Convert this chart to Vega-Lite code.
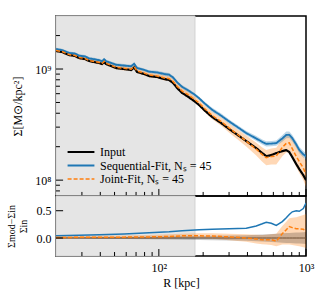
{
  "$schema": "https://vega.github.io/schema/vega-lite/v6.json",
  "padding": {"left": 5, "right": 5, "top": 14, "bottom": 5},
  "spacing": 0,
  "bounds": "flush",
  "config": {
    "view": {"stroke": "black", "strokeWidth": 1.5},
    "font": "Liberation Serif",
    "axis": {"zindex": 1, "domain": false, "grid": false, "ticks": false, "tickSize": 0, "labelColor": "black", "titleColor": "black", "labelFont": "Liberation Serif", "titleFont": "Liberation Serif", "labelFontSize": 12, "titleFontSize": 12, "titleFontWeight": "normal", "labelFlush": false, "labelOverlap": false},
    "legend": {"labelFont": "Liberation Serif"},
    "rule": {"color": "black", "strokeWidth": 1}
  },
  "datasets": {
    "shade": [{"R": 20, "R2": 176}],
    "xminor": [{"t": 30}, {"t": 40}, {"t": 50}, {"t": 60}, {"t": 70}, {"t": 80}, {"t": 90}, {"t": 200}, {"t": 300}, {"t": 400}, {"t": 500}, {"t": 600}, {"t": 700}, {"t": 800}, {"t": 900}],
    "xmajor": [{"t": 100}, {"t": 1000}],
    "yminor": [{"t": 8e7}, {"t": 9e7}, {"t": 2e8}, {"t": 3e8}, {"t": 4e8}, {"t": 5e8}, {"t": 6e8}, {"t": 7e8}, {"t": 8e8}, {"t": 9e8}, {"t": 2e9}],
    "ymajor": [{"t": 1e8}, {"t": 1e9}],
    "rmajor": [{"t": 0}, {"t": 0.5}],
    "prof": [
      {"R": 20, "K": 1.453e9, "B": 1.511e9, "J": 1.468e9, "Blo": 1.467e9, "Bhi": 1.556e9, "Jlo": 1.412e9, "Jhi": 1.527e9},
      {"R": 21.99, "K": 1.423e9, "B": 1.480e9, "J": 1.437e9, "Blo": 1.437e9, "Bhi": 1.524e9, "Jlo": 1.382e9, "Jhi": 1.494e9},
      {"R": 24.54, "K": 1.337e9, "B": 1.397e9, "J": 1.350e9, "Blo": 1.356e9, "Bhi": 1.439e9, "Jlo": 1.298e9, "Jhi": 1.404e9},
      {"R": 26.95, "K": 1.310e9, "B": 1.376e9, "J": 1.323e9, "Blo": 1.336e9, "Bhi": 1.417e9, "Jlo": 1.272e9, "Jhi": 1.376e9},
      {"R": 28.70, "K": 1.256e9, "B": 1.319e9, "J": 1.269e9, "Blo": 1.281e9, "Bhi": 1.359e9, "Jlo": 1.220e9, "Jhi": 1.320e9},
      {"R": 31.52, "K": 1.230e9, "B": 1.298e9, "J": 1.243e9, "Blo": 1.260e9, "Bhi": 1.337e9, "Jlo": 1.195e9, "Jhi": 1.293e9},
      {"R": 33.57, "K": 1.181e9, "B": 1.246e9, "J": 1.194e9, "Blo": 1.210e9, "Bhi": 1.283e9, "Jlo": 1.148e9, "Jhi": 1.242e9},
      {"R": 36.31, "K": 1.156e9, "B": 1.225e9, "J": 1.170e9, "Blo": 1.189e9, "Bhi": 1.262e9, "Jlo": 1.120e9, "Jhi": 1.223e9},
      {"R": 39.26, "K": 1.133e9, "B": 1.201e9, "J": 1.147e9, "Blo": 1.166e9, "Bhi": 1.237e9, "Jlo": 1.098e9, "Jhi": 1.199e9},
      {"R": 41.15, "K": 1.109e9, "B": 1.176e9, "J": 1.123e9, "Blo": 1.142e9, "Bhi": 1.211e9, "Jlo": 1.075e9, "Jhi": 1.174e9},
      {"R": 42.46, "K": 1.156e9, "B": 1.225e9, "J": 1.171e9, "Blo": 1.189e9, "Bhi": 1.262e9, "Jlo": 1.121e9, "Jhi": 1.224e9},
      {"R": 43.81, "K": 1.109e9, "B": 1.176e9, "J": 1.124e9, "Blo": 1.142e9, "Bhi": 1.211e9, "Jlo": 1.076e9, "Jhi": 1.175e9},
      {"R": 47.37, "K": 1.064e9, "B": 1.133e9, "J": 1.079e9, "Blo": 1.100e9, "Bhi": 1.167e9, "Jlo": 1.033e9, "Jhi": 1.128e9},
      {"R": 51.23, "K": 1.021e9, "B": 1.092e9, "J": 1.036e9, "Blo": 1.060e9, "Bhi": 1.125e9, "Jlo": 0.991e9, "Jhi": 1.083e9},
      {"R": 58.05, "K": 1.000e9, "B": 1.075e9, "J": 1.016e9, "Blo": 1.044e9, "Bhi": 1.107e9, "Jlo": 0.972e9, "Jhi": 1.062e9},
      {"R": 64.79, "K": 0.9795e9, "B": 1.058e9, "J": 0.996e9, "Blo": 1.027e9, "Bhi": 1.090e9, "Jlo": 0.953e9, "Jhi": 1.041e9},
      {"R": 67.92, "K": 1.032e9, "B": 1.115e9, "J": 1.050e9, "Blo": 1.083e9, "Bhi": 1.148e9, "Jlo": 1.005e9, "Jhi": 1.097e9},
      {"R": 71.17, "K": 0.9397e9, "B": 1.020e9, "J": 0.957e9, "Blo": 0.990e9, "Bhi": 1.051e9, "Jlo": 0.916e9, "Jhi": 1.000e9},
      {"R": 79.43, "K": 0.9016e9, "B": 0.983e9, "J": 0.919e9, "Blo": 0.954e9, "Bhi": 1.012e9, "Jlo": 0.875e9, "Jhi": 0.965e9},
      {"R": 85.90, "K": 0.8650e9, "B": 0.947e9, "J": 0.882e9, "Blo": 0.919e9, "Bhi": 0.975e9, "Jlo": 0.840e9, "Jhi": 0.926e9},
      {"R": 97.36, "K": 0.8471e9, "B": 0.932e9, "J": 0.866e9, "Blo": 0.900e9, "Bhi": 0.965e9, "Jlo": 0.825e9, "Jhi": 0.909e9},
      {"R": 108.7, "K": 0.8126e9, "B": 0.902e9, "J": 0.832e9, "Blo": 0.871e9, "Bhi": 0.934e9, "Jlo": 0.789e9, "Jhi": 0.878e9},
      {"R": 117.5, "K": 0.7962e9, "B": 0.888e9, "J": 0.818e9, "Blo": 0.858e9, "Bhi": 0.919e9, "Jlo": 0.775e9, "Jhi": 0.863e9},
      {"R": 125.1, "K": 0.7480e9, "B": 0.838e9, "J": 0.771e9, "Blo": 0.810e9, "Bhi": 0.867e9, "Jlo": 0.731e9, "Jhi": 0.813e9},
      {"R": 133.2, "K": 0.6743e9, "B": 0.759e9, "J": 0.696e9, "Blo": 0.733e9, "Bhi": 0.786e9, "Jlo": 0.657e9, "Jhi": 0.738e9},
      {"R": 144.1, "K": 0.6078e9, "B": 0.690e9, "J": 0.632e9, "Blo": 0.667e9, "Bhi": 0.714e9, "Jlo": 0.596e9, "Jhi": 0.670e9},
      {"R": 155.8, "K": 0.5710e9, "B": 0.651e9, "J": 0.594e9, "Blo": 0.629e9, "Bhi": 0.674e9, "Jlo": 0.558e9, "Jhi": 0.633e9},
      {"R": 173.9, "K": 0.5148e9, "B": 0.592e9, "J": 0.535e9, "Blo": 0.572e9, "Bhi": 0.613e9, "Jlo": 0.502e9, "Jhi": 0.570e9},
      {"R": 188.0, "K": 0.4740e9, "B": 0.545e9, "J": 0.493e9, "Blo": 0.527e9, "Bhi": 0.564e9, "Jlo": 0.461e9, "Jhi": 0.528e9},
      {"R": 203.3, "K": 0.4273e9, "B": 0.494e9, "J": 0.444e9, "Blo": 0.477e9, "Bhi": 0.511e9, "Jlo": 0.413e9, "Jhi": 0.477e9},
      {"R": 230.5, "K": 0.3694e9, "B": 0.429e9, "J": 0.382e9, "Blo": 0.411e9, "Bhi": 0.448e9, "Jlo": 0.354e9, "Jhi": 0.413e9},
      {"R": 265.4, "K": 0.3263e9, "B": 0.380e9, "J": 0.336e9, "Blo": 0.364e9, "Bhi": 0.397e9, "Jlo": 0.308e9, "Jhi": 0.366e9},
      {"R": 300.8, "K": 0.2880e9, "B": 0.337e9, "J": 0.294e9, "Blo": 0.322e9, "Bhi": 0.352e9, "Jlo": 0.267e9, "Jhi": 0.323e9},
      {"R": 351.8, "K": 0.2491e9, "B": 0.293e9, "J": 0.251e9, "Blo": 0.280e9, "Bhi": 0.306e9, "Jlo": 0.226e9, "Jhi": 0.279e9},
      {"R": 392.6, "K": 0.2246e9, "B": 0.265e9, "J": 0.2246e9, "Blo": 0.254e9, "Bhi": 0.277e9, "Jlo": 0.2005e9, "Jhi": 0.2516e9},
      {"R": 459.1, "K": 0.1942e9, "B": 0.237e9, "J": 0.1903e9, "Blo": 0.2246e9, "Bhi": 0.2500e9, "Jlo": 0.1669e9, "Jhi": 0.2169e9},
      {"R": 504.3, "K": 0.1751e9, "B": 0.2206e9, "J": 0.1698e9, "Blo": 0.2091e9, "Bhi": 0.2327e9, "Jlo": 0.1464e9, "Jhi": 0.1970e9},
      {"R": 537.0, "K": 0.1645e9, "B": 0.2122e9, "J": 0.1596e9, "Blo": 0.2011e9, "Bhi": 0.2239e9, "Jlo": 0.1364e9, "Jhi": 0.1867e9},
      {"R": 580.7, "K": 0.1680e9, "B": 0.2134e9, "J": 0.1630e9, "Blo": 0.2023e9, "Bhi": 0.2251e9, "Jlo": 0.1381e9, "Jhi": 0.1923e9},
      {"R": 628.1, "K": 0.1751e9, "B": 0.2154e9, "J": 0.1646e9, "Blo": 0.2042e9, "Bhi": 0.2272e9, "Jlo": 0.1383e9, "Jhi": 0.1959e9},
      {"R": 690.2, "K": 0.1825e9, "B": 0.2373e9, "J": 0.1971e9, "Blo": 0.2218e9, "Bhi": 0.2539e9, "Jlo": 0.1643e9, "Jhi": 0.2365e9},
      {"R": 734.5, "K": 0.1864e9, "B": 0.2554e9, "J": 0.2144e9, "Blo": 0.2387e9, "Bhi": 0.2733e9, "Jlo": 0.1772e9, "Jhi": 0.2594e9},
      {"R": 769.8, "K": 0.1788e9, "B": 0.2557e9, "J": 0.2163e9, "Blo": 0.2390e9, "Bhi": 0.2736e9, "Jlo": 0.1773e9, "Jhi": 0.2639e9},
      {"R": 806.8, "K": 0.1612e9, "B": 0.2386e9, "J": 0.1918e9, "Blo": 0.2230e9, "Bhi": 0.2553e9, "Jlo": 0.1559e9, "Jhi": 0.2359e9},
      {"R": 859.0, "K": 0.1393e9, "B": 0.2090e9, "J": 0.1630e9, "Blo": 0.1953e9, "Bhi": 0.2236e9, "Jlo": 0.1304e9, "Jhi": 0.2038e9},
      {"R": 900.4, "K": 0.1256e9, "B": 0.1871e9, "J": 0.1470e9, "Blo": 0.1749e9, "Bhi": 0.2002e9, "Jlo": 0.1157e9, "Jhi": 0.1867e9},
      {"R": 958.5, "K": 0.1109e9, "B": 0.1708e9, "J": 0.1286e9, "Blo": 0.1596e9, "Bhi": 0.1828e9, "Jlo": 0.1005e9, "Jhi": 0.1646e9},
      {"R": 1000, "K": 0.1000e9, "B": 0.1640e9, "J": 0.1130e9, "Blo": 0.1533e9, "Bhi": 0.1755e9, "Jlo": 0.0869e9, "Jhi": 0.1469e9}
    ],
    "res": [
      {"R": 20, "rK": 0, "rB": 0.04, "rJ": 0.01, "Jlo": -0.015, "Jhi": 0.035, "Glo": -0.015, "Ghi": 0.015},
      {"R": 28.70, "rK": 0, "rB": 0.05, "rJ": 0.012, "Jlo": -0.013, "Jhi": 0.037, "Glo": -0.015, "Ghi": 0.015},
      {"R": 39.26, "rK": 0, "rB": 0.06, "rJ": 0.015, "Jlo": -0.015, "Jhi": 0.045, "Glo": -0.018, "Ghi": 0.018},
      {"R": 58.05, "rK": 0, "rB": 0.075, "rJ": 0.016, "Jlo": -0.014, "Jhi": 0.046, "Glo": -0.02, "Ghi": 0.02},
      {"R": 85.90, "rK": 0, "rB": 0.095, "rJ": 0.02, "Jlo": -0.015, "Jhi": 0.055, "Glo": -0.025, "Ghi": 0.025},
      {"R": 117.5, "rK": 0, "rB": 0.115, "rJ": 0.028, "Jlo": -0.012, "Jhi": 0.068, "Glo": -0.028, "Ghi": 0.028},
      {"R": 144.1, "rK": 0, "rB": 0.135, "rJ": 0.04, "Jlo": 0.0, "Jhi": 0.08, "Glo": -0.03, "Ghi": 0.03},
      {"R": 188.0, "rK": 0, "rB": 0.15, "rJ": 0.04, "Jlo": -0.005, "Jhi": 0.085, "Glo": -0.035, "Ghi": 0.035},
      {"R": 230.5, "rK": 0, "rB": 0.16, "rJ": 0.035, "Jlo": -0.015, "Jhi": 0.085, "Glo": -0.04, "Ghi": 0.04},
      {"R": 300.8, "rK": 0, "rB": 0.17, "rJ": 0.02, "Jlo": -0.04, "Jhi": 0.08, "Glo": -0.045, "Ghi": 0.045},
      {"R": 392.6, "rK": 0, "rB": 0.18, "rJ": 0.0, "Jlo": -0.07, "Jhi": 0.07, "Glo": -0.05, "Ghi": 0.05},
      {"R": 459.1, "rK": 0, "rB": 0.22, "rJ": -0.02, "Jlo": -0.10, "Jhi": 0.06, "Glo": -0.06, "Ghi": 0.06},
      {"R": 504.3, "rK": 0, "rB": 0.26, "rJ": -0.03, "Jlo": -0.115, "Jhi": 0.055, "Glo": -0.065, "Ghi": 0.065},
      {"R": 537.0, "rK": 0, "rB": 0.29, "rJ": -0.03, "Jlo": -0.12, "Jhi": 0.06, "Glo": -0.07, "Ghi": 0.07},
      {"R": 580.7, "rK": 0, "rB": 0.27, "rJ": -0.03, "Jlo": -0.13, "Jhi": 0.07, "Glo": -0.075, "Ghi": 0.075},
      {"R": 628.1, "rK": 0, "rB": 0.23, "rJ": -0.06, "Jlo": -0.15, "Jhi": 0.08, "Glo": -0.08, "Ghi": 0.08},
      {"R": 690.2, "rK": 0, "rB": 0.30, "rJ": 0.08, "Jlo": -0.12, "Jhi": 0.22, "Glo": -0.085, "Ghi": 0.085},
      {"R": 734.5, "rK": 0, "rB": 0.37, "rJ": 0.15, "Jlo": -0.12, "Jhi": 0.30, "Glo": -0.09, "Ghi": 0.09},
      {"R": 769.8, "rK": 0, "rB": 0.43, "rJ": 0.21, "Jlo": -0.12, "Jhi": 0.36, "Glo": -0.09, "Ghi": 0.09},
      {"R": 806.8, "rK": 0, "rB": 0.48, "rJ": 0.19, "Jlo": -0.13, "Jhi": 0.37, "Glo": -0.095, "Ghi": 0.095},
      {"R": 859.0, "rK": 0, "rB": 0.50, "rJ": 0.17, "Jlo": -0.14, "Jhi": 0.38, "Glo": -0.1, "Ghi": 0.1},
      {"R": 900.4, "rK": 0, "rB": 0.49, "rJ": 0.17, "Jlo": -0.15, "Jhi": 0.40, "Glo": -0.1, "Ghi": 0.1},
      {"R": 958.5, "rK": 0, "rB": 0.54, "rJ": 0.16, "Jlo": -0.17, "Jhi": 0.42, "Glo": -0.105, "Ghi": 0.105},
      {"R": 1000, "rK": 0, "rB": 0.64, "rJ": 0.13, "Jlo": -0.18, "Jhi": 0.44, "Glo": -0.11, "Ghi": 0.11}
    ]
  },
  "vconcat": [
    {
      "width": 250,
      "height": 180,
      "layer": [
        {
          "data": {"name": "shade"},
          "mark": {"type": "rect", "fill": "#e5e5e5", "stroke": "#d2d2d2", "strokeWidth": 1},
          "encoding": {
            "x": {"field": "R", "type": "quantitative", "scale": {"type": "log", "domain": [20, 1000], "nice": false},
              "axis": {"title": null, "labels": false}},
            "x2": {"field": "R2"}
          }
        },
        {
          "data": {"name": "prof"},
          "transform": [{"fold": ["K", "B", "J"], "as": ["series", "S"]}],
          "encoding": {
            "x": {"field": "R", "type": "quantitative", "scale": {"type": "log", "domain": [20, 1000], "nice": false},
              "axis": {"title": null, "labels": false}},
            "y": {"field": "S", "type": "quantitative", "scale": {"type": "log", "domain": [7.2e7, 3e9], "nice": false},
              "axis": {"title": "Σ[M⊙/kpc²]", "values": [1e8, 1e9],
                "labelExpr": "datum.value == 1e9 ? '10⁹' : '10⁸'",
                "labelPadding": 5, "titlePadding": 10}}
          },
          "layer": [
            {
              "transform": [{"filter": "datum.series == 'J'"}],
              "mark": {"type": "area", "color": "#ff7f0e", "opacity": 0.3, "clip": true},
              "encoding": {"y": {"field": "Jlo", "type": "quantitative"}, "y2": {"field": "Jhi"}}
            },
            {
              "transform": [{"filter": "datum.series == 'B'"}],
              "mark": {"type": "area", "color": "#1f77b4", "opacity": 0.3, "clip": true},
              "encoding": {"y": {"field": "Blo", "type": "quantitative"}, "y2": {"field": "Bhi"}}
            },
            {
              "mark": {"type": "line", "clip": true},
              "encoding": {
                "color": {"field": "series", "type": "nominal",
                  "scale": {"domain": ["K", "B", "J"], "range": ["black", "#1f77b4", "#ff7f0e"]},
                  "legend": {"orient": "none", "legendX": 10, "legendY": 130, "title": null,
                    "labelExpr": "datum.label == 'K' ? 'Input' : (datum.label == 'B' ? 'Sequential-Fit, Nₛ = 45' : 'Joint-Fit, Nₛ = 45')",
                    "symbolType": "stroke", "symbolSize": 720, "symbolStrokeWidth": 1.5, "clipHeight": 12, "rowPadding": 1.5, "padding": 0,
                    "labelOffset": 4, "labelFont": "Liberation Serif", "labelFontSize": 12, "labelColor": "black"}},
                "strokeDash": {"field": "series", "type": "nominal",
                  "scale": {"domain": ["K", "B", "J"], "range": [[1, 0], [1, 0], [4, 2]]},
                  "legend": {"orient": "none", "legendX": 10, "legendY": 130, "title": null,
                    "labelExpr": "datum.label == 'K' ? 'Input' : (datum.label == 'B' ? 'Sequential-Fit, Nₛ = 45' : 'Joint-Fit, Nₛ = 45')",
                    "symbolType": "stroke", "symbolSize": 720, "symbolStrokeWidth": 1.5, "clipHeight": 12, "rowPadding": 1.5, "padding": 0,
                    "labelOffset": 4, "labelFont": "Liberation Serif", "labelFontSize": 12, "labelColor": "black"}},
                "strokeWidth": {"field": "series", "type": "nominal",
                  "scale": {"domain": ["K", "B", "J"], "range": [2.2, 1.5, 1.5]}, "legend": null}
              }
            }
          ]
        },
        {
          "data": {"name": "xminor"},
          "mark": {"type": "rule"},
          "encoding": {"x": {"field": "t", "type": "quantitative"}, "y": {"datum": 7.2e7}, "y2": {"datum": 7.83e7}}
        },
        {
          "data": {"name": "xmajor"},
          "mark": {"type": "rule"},
          "encoding": {"x": {"field": "t", "type": "quantitative"}, "y": {"datum": 7.2e7}, "y2": {"datum": 8.33e7}}
        },
        {
          "data": {"name": "yminor"},
          "mark": {"type": "rule"},
          "encoding": {"y": {"field": "t", "type": "quantitative"}, "x": {"datum": 20}, "x2": {"datum": 21.28}}
        },
        {
          "data": {"name": "ymajor"},
          "mark": {"type": "rule"},
          "encoding": {"y": {"field": "t", "type": "quantitative"}, "x": {"datum": 20}, "x2": {"datum": 22.35}}
        }
      ]
    },
    {
      "width": 250,
      "height": 60,
      "layer": [
        {
          "data": {"name": "shade"},
          "mark": {"type": "rect", "fill": "#e5e5e5", "stroke": "#d2d2d2", "strokeWidth": 1},
          "encoding": {
            "x": {"field": "R", "type": "quantitative", "scale": {"type": "log", "domain": [20, 1000], "nice": false},
              "axis": {"title": "R [kpc]", "values": [100, 1000],
                "labelExpr": "datum.value == 100 ? '10²' : '10³'", "labelPadding": 6, "titlePadding": 4}},
            "x2": {"field": "R2"}
          }
        },
        {
          "data": {"name": "res"},
          "encoding": {
            "x": {"field": "R", "type": "quantitative", "scale": {"type": "log", "domain": [20, 1000], "nice": false},
              "axis": {"title": "R [kpc]", "values": [100, 1000],
                "labelExpr": "datum.value == 100 ? '10²' : '10³'", "labelPadding": 6, "titlePadding": 4}},
            "y": {"field": "rK", "type": "quantitative", "scale": {"domain": [-0.33, 0.77], "nice": false, "zero": false},
              "axis": {"title": ["Σmod−Σin", "Σin"], "values": [0, 0.5], "format": ".1f", "labelPadding": 5, "titlePadding": 8, "titleFontSize": 10}}
          },
          "layer": [
            {"mark": {"type": "line", "color": "#555555", "strokeWidth": 1, "clip": true}},
            {"mark": {"type": "area", "color": "#ff7f0e", "opacity": 0.3, "clip": true},
             "encoding": {"y": {"field": "Jlo", "type": "quantitative"}, "y2": {"field": "Jhi"}}},
            {"mark": {"type": "area", "color": "black", "opacity": 0.2, "clip": true},
             "encoding": {"y": {"field": "Glo", "type": "quantitative"}, "y2": {"field": "Ghi"}}},
            {"mark": {"type": "line", "color": "#1f77b4", "strokeWidth": 1.5, "clip": true},
             "encoding": {"y": {"field": "rB", "type": "quantitative"}}},
            {"mark": {"type": "line", "color": "#ff7f0e", "strokeWidth": 1.5, "strokeDash": [4, 2], "clip": true},
             "encoding": {"y": {"field": "rJ", "type": "quantitative"}}}
          ]
        },
        {
          "data": {"name": "xminor"},
          "mark": {"type": "rule"},
          "encoding": {"x": {"field": "t", "type": "quantitative"}, "y": {"datum": -0.33}, "y2": {"datum": -0.257}}
        },
        {
          "data": {"name": "xmajor"},
          "mark": {"type": "rule"},
          "encoding": {"x": {"field": "t", "type": "quantitative"}, "y": {"datum": -0.33}, "y2": {"datum": -0.202}}
        },
        {
          "data": {"name": "rmajor"},
          "mark": {"type": "rule"},
          "encoding": {"y": {"field": "t", "type": "quantitative"}, "x": {"datum": 20}, "x2": {"datum": 22.35}}
        }
      ]
    }
  ]
}
